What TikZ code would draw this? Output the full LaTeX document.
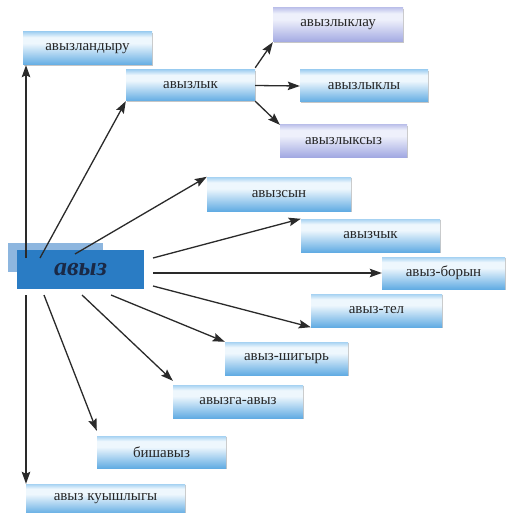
\documentclass[tikz,border=0pt]{standalone}
\usepackage{fontspec}
\setmainfont{Liberation Serif}
\usetikzlibrary{arrows.meta,shadows}
\definecolor{lnc}{HTML}{2A2A2A}
\definecolor{btop}{HTML}{A6D2F2}
\definecolor{bmid}{HTML}{EEF7FD}
\definecolor{bbot}{HTML}{62ACE3}
\definecolor{ltop}{HTML}{C2C6EC}
\definecolor{lmid}{HTML}{EEF0FB}
\definecolor{lbot}{HTML}{A2A9E2}
\definecolor{cback}{HTML}{8DB6DF}
\definecolor{cfront}{HTML}{2A7CC4}
\definecolor{ctext}{HTML}{1A2946}
\pgfdeclareverticalshading{bluebox}{100bp}{color(0bp)=(bbot); color(25bp)=(bbot); color(58bp)=(bmid); color(67bp)=(bmid); color(75bp)=(btop); color(100bp)=(btop)}
\pgfdeclareverticalshading{lilabox}{100bp}{color(0bp)=(lbot); color(25bp)=(lbot); color(58bp)=(lmid); color(67bp)=(lmid); color(75bp)=(ltop); color(100bp)=(ltop)}
\tikzset{
  wbox/.style={rectangle, inner sep=0, shading=bluebox, minimum height=32,
    drop shadow={shadow xshift=1.2pt, shadow yshift=-1.2pt, fill=gray!45, opacity=1},
    font=\fontsize{15}{17}\selectfont, text=black!85},
  lbox/.style={wbox, shading=lilabox},
  arr/.style={draw=lnc, line width=1.3pt, -{Stealth[length=12pt,width=8.5pt,inset=2pt]}}
}
\begin{document}
\begin{tikzpicture}[x=1pt,y=-1pt]
\useasboundingbox[fill=white] (0,0) rectangle (505,513);
\node[rectangle, fill=cback, minimum width=95, minimum height=29] (w0b) at (55.5,257.5){};
\node[rectangle, fill=cfront, minimum width=127, minimum height=39, text=ctext,
  font=\fontsize{26}{28}\selectfont\bfseries\itshape] (w0) at (80.5,269.5){авыз};
\node[wbox, minimum width=129, minimum height=33] (w1) at (87.5,48.5){авызландыру};
\node[wbox, minimum width=129, minimum height=31] (w2) at (190.5,85.5){авызлык};
\node[lbox, minimum width=130, minimum height=34] (w3) at (338,25){авызлыклау};
\node[wbox, minimum width=128] (w4) at (364,86){авызлыклы};
\node[lbox, minimum width=127] (w5) at (343.5,141){авызлыксыз};
\node[wbox, minimum width=144, minimum height=34] (w6) at (279,194){авызсын};
\node[wbox, minimum width=139, minimum height=33] (w7) at (370.5,235.5){авызчык};
\node[wbox, minimum width=123] (w8) at (443.5,273){авыз-борын};
\node[wbox, minimum width=131, minimum height=33] (w9) at (376.5,310.5){авыз-тел};
\node[wbox, minimum width=123, minimum height=33] (w10) at (286.5,358.5){авыз-шигырь};
\node[wbox, minimum width=130, minimum height=33] (w11) at (238,401.5){авызга-авыз};
\node[wbox, minimum width=129] (w12) at (161.5,452){бишавыз};
\node[wbox, minimum width=159, minimum height=30] (w13) at (105.5,499){авыз куышлыгы};
% start points round the centre
\coordinate (s1) at (26,258);
\coordinate (s2) at (40,258);
\coordinate (s3) at (75,254);
\coordinate (s4) at (153,258);
\coordinate (s5) at (153,273);
\coordinate (s6) at (153,286);
\coordinate (s7) at (111,295);
\coordinate (s8) at (82,295);
\coordinate (s9) at (44,295);
\coordinate (s10) at (26,295);
\draw[arr](s1) -- (s1 |- w1.south);
\draw[arr](s2) -- (w2.south west);
\draw[arr](s3) -- (w6.north west);
\draw[arr](s4) -- (w7.north west);
\draw[arr](s5) -- (w8.west);
\draw[arr](s6) -- (w9.south west);
\draw[arr](s7) -- (w10.north west);
\draw[arr](s8) -- ([yshift=4]w11.north west);
\draw[arr](s9) -- ([yshift=5]w12.north west);
\draw[arr](s10) -- (s10 |- w13.north);
\draw[arr]([yshift=2]w2.north east) -- (w3.south west);
\draw[arr](w2.east) -- (w4.west);
\draw[arr](w2.south east) -- (w5.north west);
\end{tikzpicture}
\end{document}
